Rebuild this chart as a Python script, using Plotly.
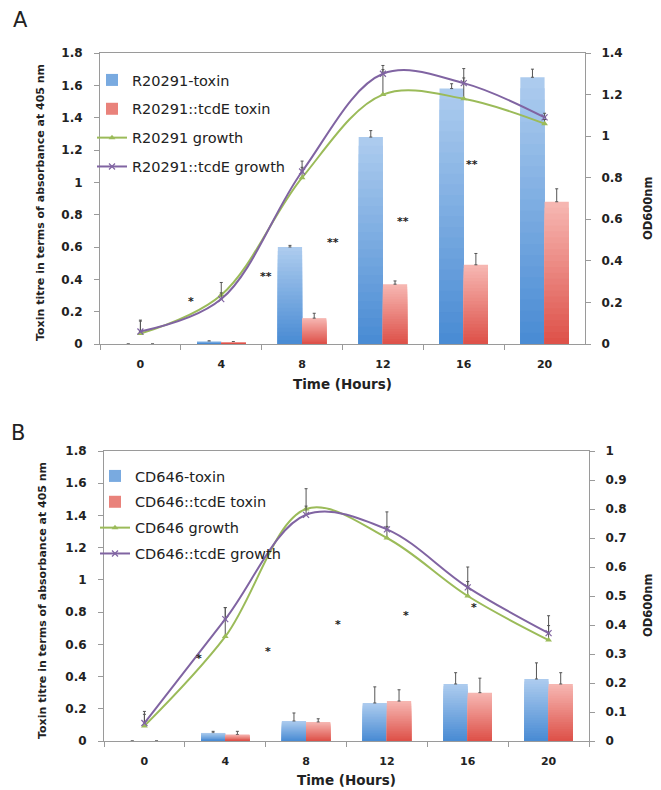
import plotly.graph_objects as go

# ---------------- data ----------------
hours = ["0", "4", "8", "12", "16", "20"]

# Panel A (R20291)
a_names = ["R20291-toxin", "R20291::tcdE toxin", "R20291 growth", "R20291::tcdE growth"]
a_wt_toxin = [0, 0.015, 0.60, 1.28, 1.58, 1.65]
a_wt_toxin_err = [0, 0.005, 0.01, 0.04, 0.03, 0.05]
a_mut_toxin = [0, 0.01, 0.16, 0.37, 0.49, 0.88]
a_mut_toxin_err = [0, 0.005, 0.03, 0.02, 0.07, 0.08]
a_wt_growth = [0.05, 0.236, 0.80, 1.20, 1.18, 1.06]
a_wt_growth_err = [0.065, 0.06, 0.05, 0.12, 0.10, 0.02]
a_mut_growth = [0.06, 0.216, 0.83, 1.30, 1.255, 1.09]
a_mut_growth_err = [0.05, 0.03, 0.05, 0.04, 0.07, 0.02]
a_star_x = [0.62, 1.55, 2.38, 3.25, 4.1]      # category index positions
a_star_y = [0.284, 0.439, 0.649, 0.779, 1.126]
a_star_txt = ["*", "**", "**", "**", "**"]

# Panel B (CD646)
b_names = ["CD646-toxin", "CD646::tcdE toxin", "CD646 growth", "CD646::tcdE growth"]
b_wt_toxin = [0, 0.05, 0.124, 0.236, 0.354, 0.385]
b_wt_toxin_err = [0, 0.01, 0.05, 0.10, 0.07, 0.10]
b_mut_toxin = [0, 0.04, 0.118, 0.248, 0.30, 0.354]
b_mut_toxin_err = [0, 0.02, 0.02, 0.07, 0.09, 0.07]
b_wt_growth = [0.052, 0.36, 0.80, 0.70, 0.50, 0.348]
b_wt_growth_err = [0.04, 0.10, 0.07, 0.04, 0.05, 0.05]
b_mut_growth = [0.062, 0.42, 0.78, 0.73, 0.53, 0.372]
b_mut_growth_err = [0.04, 0.04, 0.03, 0.06, 0.07, 0.06]
b_star_x = [0.67, 1.53, 2.39, 3.24, 4.08]
b_star_y = [0.528, 0.577, 0.739, 0.795, 0.85]
b_star_txt = ["*", "*", "*", "*", "*"]

left_ticks = [0, 0.2, 0.4, 0.6, 0.8, 1.0, 1.2, 1.4, 1.6, 1.8]
left_ticktext = ["0", "0.2", "0.4", "0.6", "0.8", "1", "1.2", "1.4", "1.6", "1.8"]
a_right_ticks = [0, 0.2, 0.4, 0.6, 0.8, 1.0, 1.2, 1.4]
a_right_ticktext = ["0", "0.2", "0.4", "0.6", "0.8", "1", "1.2", "1.4"]
b_right_ticks = [0, 0.1, 0.2, 0.3, 0.4, 0.5, 0.6, 0.7, 0.8, 0.9, 1.0]
b_right_ticktext = ["0", "0.1", "0.2", "0.3", "0.4", "0.5", "0.6", "0.7", "0.8", "0.9", "1"]

# ---------------- style ----------------
W, H = 661, 790
OFF = 8          # page body margin in the browser
FONT = "DejaVu Sans"
BLUE_TOP, BLUE_BOT = (172, 203, 238), (74, 140, 212)
RED_TOP, RED_BOT = (246, 182, 177), (222, 82, 74)
GREEN = "#9bbb59"
PURPLE = "#8064a2"
GREY = "#9a9a9a"
TXT = "#222222"
ERR = "#555555"
N_SHADES = 24    # layers used to paint the vertical gradient of each bar
BAR_W = 0.3      # bar width in category units


def px(x):
    return (x - OFF) / W


def py(y):
    return 1 - (y - OFF) / H


def mix(c1, c2, t):
    return "rgb(%d,%d,%d)" % tuple(round(a + (b - a) * t) for a, b in zip(c1, c2))


fig = go.Figure()


def add_bar_series(vals, errs, name, xa, ya, legend, offset, ctop, cbot):
    zeros = [0] * len(hours)
    for k in range(N_SHADES):
        frac = 1 - k / N_SHADES
        show = k == N_SHADES // 2
        fig.add_trace(go.Bar(
            x=hours, y=[v * frac for v in vals], name=name,
            xaxis=xa, yaxis=ya, legend=legend, legendgroup=name,
            showlegend=show, hoverinfo="skip" if k else None,
            width=BAR_W, offset=offset,
            marker=dict(color=mix(ctop, cbot, k / (N_SHADES - 1)), line=dict(width=0)),
            error_y=dict(type="data", array=errs, arrayminus=zeros, symmetric=False,
                         color=ERR, thickness=1, width=1.5, visible=(k == 0))))


def add_panel(xa, ya_left, ya_right, legend, names, wt_t, wt_te, mu_t, mu_te,
              wt_g, wt_ge, mu_g, mu_ge):
    zeros = [0] * len(hours)
    add_bar_series(wt_t, wt_te, names[0], xa, ya_left, legend, -BAR_W, BLUE_TOP, BLUE_BOT)
    add_bar_series(mu_t, mu_te, names[1], xa, ya_left, legend, 0, RED_TOP, RED_BOT)
    fig.add_trace(go.Scatter(
        x=hours, y=wt_g, name=names[2], xaxis=xa, yaxis=ya_right, legend=legend,
        legendgroup=names[2], mode="lines+markers",
        line=dict(color=GREEN, width=2, shape="spline", smoothing=1.0),
        marker=dict(symbol="triangle-up", size=6, color=GREEN),
        error_y=dict(type="data", array=wt_ge, arrayminus=zeros, symmetric=False,
                     color=ERR, thickness=1, width=1.5)))
    fig.add_trace(go.Scatter(
        x=hours, y=mu_g, name=names[3], xaxis=xa, yaxis=ya_right, legend=legend,
        legendgroup=names[3], mode="lines+markers",
        line=dict(color=PURPLE, width=2, shape="spline", smoothing=1.0),
        marker=dict(symbol="x-thin", size=6, line=dict(color=PURPLE, width=1.2)),
        error_y=dict(type="data", array=mu_ge, arrayminus=zeros, symmetric=False,
                     color=ERR, thickness=1, width=1.5)))


add_panel("x", "y", "y2", "legend", a_names, a_wt_toxin, a_wt_toxin_err,
          a_mut_toxin, a_mut_toxin_err, a_wt_growth, a_wt_growth_err,
          a_mut_growth, a_mut_growth_err)
add_panel("x2", "y3", "y4", "legend2", b_names, b_wt_toxin, b_wt_toxin_err,
          b_mut_toxin, b_mut_toxin_err, b_wt_growth, b_wt_growth_err,
          b_mut_growth, b_mut_growth_err)

# plot-area pixel boxes (left, top, right, bottom) in screenshot pixels
A_BOX = (100, 53, 585, 344)
B_BOX = (104, 451, 589, 741)


def xaxis_cfg(box, anchor):
    return dict(domain=[px(box[0]), px(box[2])], anchor=anchor, type="category",
                categoryorder="array", categoryarray=hours, automargin=False,
                tickson="boundaries", ticks="outside", ticklen=5, tickcolor=GREY,
                showline=True, linecolor=GREY, linewidth=1, mirror=True,
                showgrid=False, zeroline=False,
                tickfont=dict(family=FONT, size=11, color=TXT, weight="bold"),
                ticklabelstandoff=10)


def yleft_cfg(box, anchor, tv, tt):
    return dict(domain=[py(box[3]), py(box[1])], anchor=anchor, range=[0, 1.8],
                automargin=False,
                tickvals=tv, ticktext=tt, ticks="outside", ticklen=5,
                tickcolor=GREY, showline=True, linecolor=GREY, linewidth=1,
                showgrid=False, zeroline=False,
                tickfont=dict(family=FONT, size=12, color=TXT, weight="bold"),
                ticklabelstandoff=9)


def yright_cfg(over, anchor, rng, tv, tt):
    return dict(overlaying=over, anchor=anchor, side="right", range=rng,
                automargin=False,
                tickvals=tv, ticktext=tt, ticks="outside", ticklen=5,
                tickcolor=GREY, showline=True, linecolor=GREY, linewidth=1,
                showgrid=False, zeroline=False,
                tickfont=dict(family=FONT, size=12, color=TXT, weight="bold"),
                ticklabelstandoff=8)


annotations = []


def stars(xref, yref, xs, ys, ts):
    for x, y, t in zip(xs, ys, ts):
        annotations.append(dict(x=x, y=y, xref=xref, yref=yref, text=t,
                                showarrow=False, yshift=-3,
                                font=dict(family=FONT, size=11, color="#222",
                                          weight="bold")))


stars("x", "y", a_star_x, a_star_y, a_star_txt)
stars("x2", "y3", b_star_x, b_star_y, b_star_txt)


def label(text, x, y, size, bold=True, angle=0):
    annotations.append(dict(x=px(x), y=py(y), xref="paper", yref="paper",
                            text=text, showarrow=False, textangle=angle,
                            xanchor="center", yanchor="middle",
                            font=dict(family=FONT, size=size, color=TXT,
                                      weight="bold" if bold else "normal")))


label("A", 20, 20, 21, bold=False)
label("B", 18, 433, 21, bold=False)
ytitle = "Toxin titre in terms of absorbance at 405 nm"
label(ytitle, 40, 203, 11, angle=-90)
label(ytitle, 42, 601, 11, angle=-90)
label("OD600nm", 648, 208, 11.5, angle=-90)
label("OD600nm", 648, 605, 11.5, angle=-90)
label("Time (Hours)", 342.5, 384, 13.5)
label("Time (Hours)", 346.5, 780, 13.5)


def legend_cfg(xpx, ypx, gap):
    return dict(x=px(xpx), y=py(ypx), xanchor="left", yanchor="top",
                bgcolor="rgba(0,0,0,0)", borderwidth=0, tracegroupgap=gap,
                traceorder="grouped",
                font=dict(family=FONT, size=14.5, color=TXT))


fig.update_layout(
    width=W, height=H, margin=dict(l=0, r=0, t=0, b=0, autoexpand=False),
    paper_bgcolor="white", plot_bgcolor="white",
    barmode="overlay",
    xaxis=xaxis_cfg(A_BOX, "y"),
    yaxis=yleft_cfg(A_BOX, "x", left_ticks, left_ticktext),
    yaxis2=yright_cfg("y", "x", [0, 1.4], a_right_ticks, a_right_ticktext),
    xaxis2=xaxis_cfg(B_BOX, "y3"),
    yaxis3=yleft_cfg(B_BOX, "x2", left_ticks, left_ticktext),
    yaxis4=yright_cfg("y3", "x2", [0, 1.0], b_right_ticks, b_right_ticktext),
    legend=legend_cfg(92, 64, 7),
    legend2=legend_cfg(95, 460, 4),
    annotations=annotations,
    showlegend=True,
)

fig.write_html("out.html")
